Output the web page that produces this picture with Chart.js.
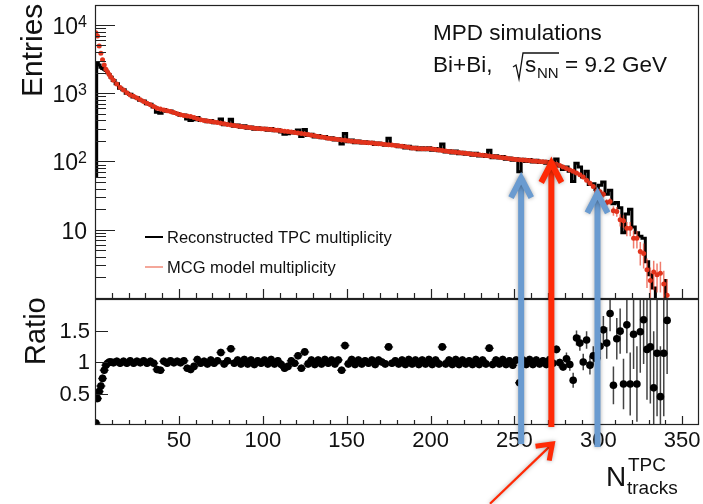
<!DOCTYPE html>
<html>
<head>
<meta charset="utf-8">
<script src="https://cdn.jsdelivr.net/npm/chart.js@4.4.1/dist/chart.umd.min.js"></script>
<style>
  html, body { margin: 0; padding: 0; background: #fff; }
  #wrap { position: relative; width: 703px; height: 504px; }
  #wrap canvas { position: absolute; left: 0; top: 0; }
</style>
</head>
<body>
<div id="wrap">
  <canvas id="entries-chart" width="703" height="504"></canvas>
  <canvas id="ratio-chart" width="703" height="504"></canvas>
</div>
<script>
// bin centres: ten 1-wide bins, then 2-wide bins up to 342
const nTracks = [0.5, 1.5, 2.5, 3.5, 4.5, 5.5, 6.5, 7.5, 8.5, 9.5];
for (let c = 11; c <= 341; c += 2) nTracks.push(c);

const recoEntries = [
  60, 2800, 2600, 2400, 2300, 2250, 2150, 2000, 1880, 1720,
  1535, 1374, 1186, 1121, 1000, 964, 882, 859, 792, 770,
  700, 687, 627, 528, 509, 576, 544, 551, 517, 505,
  477, 481, 419, 400, 409, 439, 400, 404, 381, 397,
  370, 378, 419, 346, 356, 414, 329, 341, 316, 334,
  307, 321, 296, 311, 296, 308, 287, 305, 281, 292,
  271, 250, 255, 275, 261, 288, 232, 293, 241, 250,
  228, 240, 222, 233, 215, 222, 207, 216, 180, 257,
  195, 206, 188, 200, 186, 194, 184, 192, 177, 187,
  180, 173, 218, 171, 175, 165, 172, 157, 167, 153,
  161, 149, 159, 149, 159, 146, 155, 143, 180, 138,
  144, 133, 142, 130, 137, 128, 133, 123, 132, 120,
  127, 118, 146, 113, 121, 112, 118, 108, 112, 104,
  110, 71, 108, 100, 107, 98, 104, 97, 101, 94,
  100, 92, 109, 86, 76, 83, 72, 51, 94, 83,
  59, 72, 46, 47, 39, 45, 50, 33, 38, 24,
  25, 21, 9, 17, 20, 11, 9, 8, 7.5, 3.4,
  2.2, 1.4, 0.5, 0.5, 0.5, 1.8
];

const mcgEntries = [
  7700, 6900, 4900, 3860, 3100, 2600, 2250, 2050, 1880, 1720,
  1550, 1360, 1210, 1110, 1020, 945, 900, 850, 800, 755,
  715, 680, 640, 600, 585, 570, 555, 540, 522, 500,
  482, 472, 465, 455, 440, 422, 408, 400, 393, 385,
  378, 371, 364, 357, 349, 342, 336, 331, 326, 321,
  317, 312, 308, 305, 302, 299, 296, 293, 290, 286,
  282, 278, 274, 270, 266, 262, 258, 253, 248, 243,
  238, 233, 229, 224, 219, 216, 213, 210, 207, 204,
  201, 198, 196, 194, 192, 190, 188, 186, 184, 182,
  180, 178, 176, 174, 172, 170, 167, 164, 161, 158,
  156, 155, 154, 154, 153, 152, 150, 147, 145, 142,
  140, 139, 137, 135, 133, 132, 130, 128, 127, 125,
  123, 122, 120, 118, 117, 115, 113, 112, 110, 109,
  107, 106, 105, 104, 103, 102, 101, 100, 99, 98,
  96, 94, 91, 87, 83, 79, 75, 72, 68, 64,
  59, 53, 48, 43, 37, 36, 33, 25, 26, 19,
  18.5, 14, 13.5, 10.5, 10.5, 7.5, 7.5, 4.8, 4.5, 2.6,
  1.8, 2.4, 2.2, 2.3, 1.6, 1.1
];

// MCG error bars, only visible in the tail (from N = 291)
const mcgErrStart = 291;
const mcgErrTail = [
  4, 4, 4, 3.5, 3.5, 3.5, 3.5, 3, 3, 3,
  3, 2.8, 2.8, 2.5, 2.5, 2.2, 2.2, 1.8, 1.8, 1.2,
  1.0, 1.1, 1.0, 1.1, 0.9, 0.8
];

const ratioValues = [
  0.03, 0.42, 0.53, 0.62, 0.74, 0.87, 0.95, 0.98, 1.0, 1.0,
  0.99, 1.01, 0.98, 1.01, 0.98, 1.02, 0.98, 1.01, 0.99, 1.02,
  0.98, 1.01, 0.98, 0.88, 0.87, 1.01, 0.98, 1.02, 0.99, 1.01,
  0.99, 1.02, 0.90, 0.88, 0.93, 1.04, 0.98, 1.01, 0.97, 1.03,
  0.98, 1.02, 1.15, 0.97, 1.02, 1.21, 0.98, 1.03, 0.97, 1.04,
  0.97, 1.03, 0.96, 1.02, 0.98, 1.03, 0.97, 1.04, 0.97, 1.02,
  0.96, 0.90, 0.93, 1.02, 0.98, 1.10, 0.90, 1.16, 0.97, 1.03,
  0.96, 1.03, 0.97, 1.04, 0.98, 1.03, 0.97, 1.03, 0.87, 1.26,
  0.97, 1.04, 0.96, 1.03, 0.97, 1.02, 0.98, 1.03, 0.96, 1.03,
  1.00, 0.97, 1.24, 0.98, 1.02, 0.97, 1.03, 0.96, 1.04, 0.97,
  1.03, 0.96, 1.03, 0.97, 1.04, 0.96, 1.03, 0.97, 1.24, 0.97,
  1.03, 0.96, 1.04, 0.96, 1.03, 0.97, 1.02, 0.96, 1.04, 0.96,
  1.03, 0.97, 1.22, 0.96, 1.03, 0.97, 1.04, 0.96, 1.02, 0.95,
  1.03, 0.67, 1.03, 0.96, 1.04, 0.96, 1.03, 0.97, 1.02, 0.96,
  1.04, 0.98, 1.20, 0.99, 0.92, 1.05, 0.96, 0.71, 1.38, 1.30,
  1.00, 1.35, 0.95, 1.10, 1.05, 1.25, 1.51, 1.30, 1.77, 0.63,
  1.37, 1.49, 0.65, 1.59, 0.65, 1.44, 0.65, 1.48, 1.67, 1.20,
  1.24, 0.59, 1.14, 0.45, 1.14, 1.66
];

const ratioErrBody = 0.06;
const ratioErrStart = 281;
const ratioErrTail = [
  0.10, 0.10, 0.12, 0.12, 0.12, 0.13, 0.14, 0.15, 0.15, 0.17,
  0.20, 0.22, 0.25, 0.28, 0.30, 0.33, 0.36, 0.40, 0.45, 0.50,
  0.55, 0.60, 0.65, 0.70, 0.80, 0.90, 0.90, 1.00, 0.80, 1.00,
  0.85
];

const xTicks = [50, 100, 150, 200, 250, 300, 350];
const entryDecades = [1, 2, 3, 4];
const ratioTicks = [0.5, 1, 1.5];

// cut arrows: N position, entries at the arrow head, ratio units at the foot
const cutArrowN = [254, 272, 299.5];
const cutArrowHead = [57, 95, 34];
const cutArrowFoot = [-0.30, -0.03, -0.35];

const FONT = '"Liberation Sans", Arial, Helvetica, sans-serif';
const BLUE = '#6a9bd0';
const RED = '#ff2a06';

function font(size) {
  return size + 'px ' + FONT;
}

function drawArrow(ctx, x0, y0, x1, y1, shaftW, headW, headLen, spread, color) {
  const ang = Math.atan2(y1 - y0, x1 - x0);
  ctx.save();
  ctx.strokeStyle = color;
  ctx.lineCap = 'butt';
  ctx.lineJoin = 'miter';
  ctx.shadowColor = 'rgba(0,0,0,0.35)';
  ctx.shadowBlur = 4;
  ctx.lineWidth = shaftW;
  ctx.beginPath();
  ctx.moveTo(x0, y0);
  ctx.lineTo(x1, y1);
  ctx.stroke();
  ctx.lineWidth = headW;
  ctx.beginPath();
  ctx.moveTo(x1 - headLen * Math.cos(ang - spread), y1 - headLen * Math.sin(ang - spread));
  ctx.lineTo(x1, y1);
  ctx.lineTo(x1 - headLen * Math.cos(ang + spread), y1 - headLen * Math.sin(ang + spread));
  ctx.stroke();
  ctx.restore();
}

function drawXTicks(ctx, x, a) {
  ctx.beginPath();
  for (let v = 10; v < x.max; v += 10) {
    const px = Math.round(x.getPixelForValue(v)) + 0.5;
    ctx.moveTo(px, a.bottom);
    ctx.lineTo(px, a.bottom - (v % 50 === 0 ? 9 : 5));
  }
  ctx.stroke();
}

const entriesDecor = {
  id: 'entriesDecor',
  afterDatasetDraw(chart, args) {
    if (args.index !== 0) return;
    const { ctx, chartArea: a, scales: { x, y } } = chart;
    const i0 = nTracks.indexOf(mcgErrStart);
    ctx.save();
    ctx.beginPath();
    ctx.rect(a.left, a.top, a.right - a.left, a.bottom - a.top);
    ctx.clip();
    ctx.strokeStyle = 'rgba(235,80,60,0.75)';
    ctx.lineWidth = 1.5;
    ctx.beginPath();
    mcgErrTail.forEach((e, k) => {
      const i = i0 + k;
      const v = mcgEntries[i];
      const px = x.getPixelForValue(nTracks[i]);
      const lo = Math.max(v - e, 0.01);
      ctx.moveTo(px, y.getPixelForValue(v + e));
      ctx.lineTo(px, y.getPixelForValue(lo));
    });
    ctx.stroke();
    ctx.restore();
  },
  afterDraw(chart) {
    const { ctx, chartArea: a, scales: { x, y } } = chart;
    ctx.save();
    ctx.strokeStyle = '#222';
    ctx.lineWidth = 1.2;
    ctx.strokeRect(a.left + 0.5, a.top + 0.5, a.right - a.left - 1, a.bottom - a.top);

    // log ticks on the left edge
    ctx.beginPath();
    for (let d = 0; d <= 4; d++) {
      for (let m = 1; m <= 9; m++) {
        const v = m * Math.pow(10, d);
        if (v <= y.min || v > y.max) continue;
        const py = Math.round(y.getPixelForValue(v)) + 0.5;
        ctx.moveTo(a.left, py);
        ctx.lineTo(a.left + (m === 1 ? 20 : 11), py);
      }
    }
    ctx.stroke();
    drawXTicks(ctx, x, a);

    // decade labels
    ctx.fillStyle = '#111';
    ctx.textBaseline = 'alphabetic';
    ctx.textAlign = 'left';
    entryDecades.forEach(e => {
      const py = y.getPixelForValue(Math.pow(10, e));
      ctx.font = font(23);
      const wBase = ctx.measureText('10').width;
      ctx.font = font(16);
      const wExp = e > 1 ? ctx.measureText(String(e)).width : 0;
      const xb = a.left - 8 - wBase - wExp;
      ctx.font = font(23);
      ctx.fillText('10', xb, py + 9);
      if (e > 1) {
        ctx.font = font(16);
        ctx.fillText(String(e), xb + wBase, py + 2);
      }
    });

    // axis title
    ctx.save();
    ctx.translate(42, 97);
    ctx.rotate(-Math.PI / 2);
    ctx.font = font(30);
    ctx.fillText('Entries', 0, 0);
    ctx.restore();

    // legend
    ctx.lineWidth = 2;
    ctx.strokeStyle = '#000';
    ctx.beginPath();
    ctx.moveTo(145, 237);
    ctx.lineTo(163, 237);
    ctx.stroke();
    ctx.strokeStyle = '#f08a78';
    ctx.lineWidth = 1.5;
    ctx.beginPath();
    ctx.moveTo(145, 267);
    ctx.lineTo(163, 267);
    ctx.stroke();
    ctx.font = font(16.5);
    ctx.textBaseline = 'middle';
    ctx.fillText('Reconstructed TPC multiplicity', 167, 238);
    ctx.fillText('MCG model multiplicity', 167, 268);

    // header text
    ctx.textBaseline = 'alphabetic';
    ctx.font = font(22.5);
    ctx.fillText('MPD simulations', 433, 40);
    ctx.fillText('Bi+Bi,', 433, 72);
    ctx.lineWidth = 1.3;
    ctx.strokeStyle = '#111';
    ctx.beginPath();
    ctx.moveTo(513, 67);
    ctx.lineTo(516, 65);
    ctx.lineTo(519, 79);
    ctx.lineTo(523, 53);
    ctx.lineTo(559, 53);
    ctx.stroke();
    ctx.fillText('s', 525, 72);
    ctx.font = font(15);
    ctx.fillText('NN', 537, 78);
    ctx.font = font(22.5);
    ctx.fillText('= 9.2 GeV', 565, 72);
    ctx.restore();
  }
};

const ratioDecor = {
  id: 'ratioDecor',
  beforeDatasetsDraw(chart) {
    const { ctx, chartArea: a, scales: { x, y } } = chart;
    const i0 = nTracks.indexOf(ratioErrStart);
    ctx.save();
    ctx.beginPath();
    ctx.rect(a.left, a.top, a.right - a.left, a.bottom - a.top);
    ctx.clip();
    ctx.strokeStyle = '#444';
    ctx.lineWidth = 1.5;
    ctx.beginPath();
    ratioValues.forEach((v, i) => {
      const e = i >= i0 ? ratioErrTail[i - i0] : ratioErrBody;
      const px = x.getPixelForValue(nTracks[i]);
      ctx.moveTo(px, y.getPixelForValue(v + e));
      ctx.lineTo(px, y.getPixelForValue(v - e));
      if (i < i0) {
        const py = y.getPixelForValue(v);
        ctx.moveTo(px - 4.5, py);
        ctx.lineTo(px + 4.5, py);
      }
    });
    ctx.stroke();
    ctx.restore();
  },
  afterDraw(chart) {
    const { ctx, chartArea: a, scales: { x, y } } = chart;
    ctx.save();
    ctx.strokeStyle = '#222';
    ctx.lineWidth = 1.2;
    ctx.strokeRect(a.left + 0.5, a.top + 0.5, a.right - a.left - 1, a.bottom - a.top - 1);

    ctx.beginPath();
    ratioTicks.forEach(v => {
      const py = Math.round(y.getPixelForValue(v)) + 0.5;
      ctx.moveTo(a.left, py);
      ctx.lineTo(a.left + 13, py);
    });
    ctx.stroke();
    drawXTicks(ctx, x, a);

    ctx.fillStyle = '#111';
    ctx.font = font(22);
    ctx.textAlign = 'right';
    ctx.textBaseline = 'middle';
    ratioTicks.forEach(v => {
      ctx.fillText(String(v), a.left - 5, y.getPixelForValue(v) + 1);
    });
    ctx.textAlign = 'center';
    ctx.textBaseline = 'alphabetic';
    xTicks.forEach(v => {
      ctx.fillText(String(v), x.getPixelForValue(v), a.bottom + 22);
    });

    ctx.textAlign = 'left';
    ctx.save();
    ctx.translate(45, 365);
    ctx.rotate(-Math.PI / 2);
    ctx.font = font(29);
    ctx.fillText('Ratio', 0, 0);
    ctx.restore();

    ctx.font = font(28);
    ctx.fillText('N', 606, 486);
    ctx.font = font(19);
    ctx.fillText('TPC', 628, 471);
    ctx.fillText('tracks', 627, 494);

    // cut arrows across both panels
    const yTop = entriesChart.scales.y;
    cutArrowN.forEach((n, k) => {
      const px = x.getPixelForValue(n);
      const color = k === 1 ? RED : BLUE;
      drawArrow(ctx, px, y.getPixelForValue(cutArrowFoot[k]), px,
        yTop.getPixelForValue(cutArrowHead[k]), 6, 6, 22, 0.48, color);
    });
    // pointer arrow to the red cut
    drawArrow(ctx, x.getPixelForValue(235.4), y.getPixelForValue(-1.25),
      x.getPixelForValue(272.6), y.getPixelForValue(-0.3), 2.2, 5, 17, 0.62, RED);
    ctx.restore();
  }
};

const xScale = { type: 'linear', min: 0, max: 360, display: false };

const entriesChart = new Chart(document.getElementById('entries-chart'), {
  type: 'line',
  data: {
    datasets: [
      {
        label: 'Reconstructed TPC multiplicity',
        data: nTracks.map((n, i) => ({ x: n, y: recoEntries[i] })),
        order: 2,
        borderColor: '#000',
        borderWidth: 3,
        stepped: 'middle',
        pointRadius: 0,
        fill: false
      },
      {
        label: 'MCG model multiplicity',
        data: nTracks.map((n, i) => ({ x: n, y: mcgEntries[i] })),
        order: 1,
        showLine: false,
        pointRadius: 2.5,
        pointBorderWidth: 0,
        pointBackgroundColor: '#e2331c'
      }
    ]
  },
  options: {
    responsive: false,
    animation: false,
    events: [],
    layout: { padding: { left: 95, top: 5, right: 4, bottom: 206 } },
    plugins: { legend: { display: false }, tooltip: { enabled: false } },
    scales: {
      x: xScale,
      y: { type: 'logarithmic', min: 1, max: 19600, display: false }
    }
  },
  plugins: [entriesDecor]
});

const ratioChart = new Chart(document.getElementById('ratio-chart'), {
  type: 'line',
  data: {
    datasets: [{
      label: 'Ratio',
      data: nTracks.map((n, i) => ({ x: n, y: ratioValues[i] })),
      showLine: false,
      pointRadius: 3.8,
      pointBorderWidth: 0,
      pointBackgroundColor: '#000'
    }]
  },
  options: {
    responsive: false,
    animation: false,
    events: [],
    layout: { padding: { left: 95, top: 299, right: 4, bottom: 79 } },
    plugins: { legend: { display: false }, tooltip: { enabled: false } },
    scales: {
      x: xScale,
      y: { type: 'linear', min: 0, max: 2, display: false }
    }
  },
  plugins: [ratioDecor]
});
</script>
</body>
</html>
